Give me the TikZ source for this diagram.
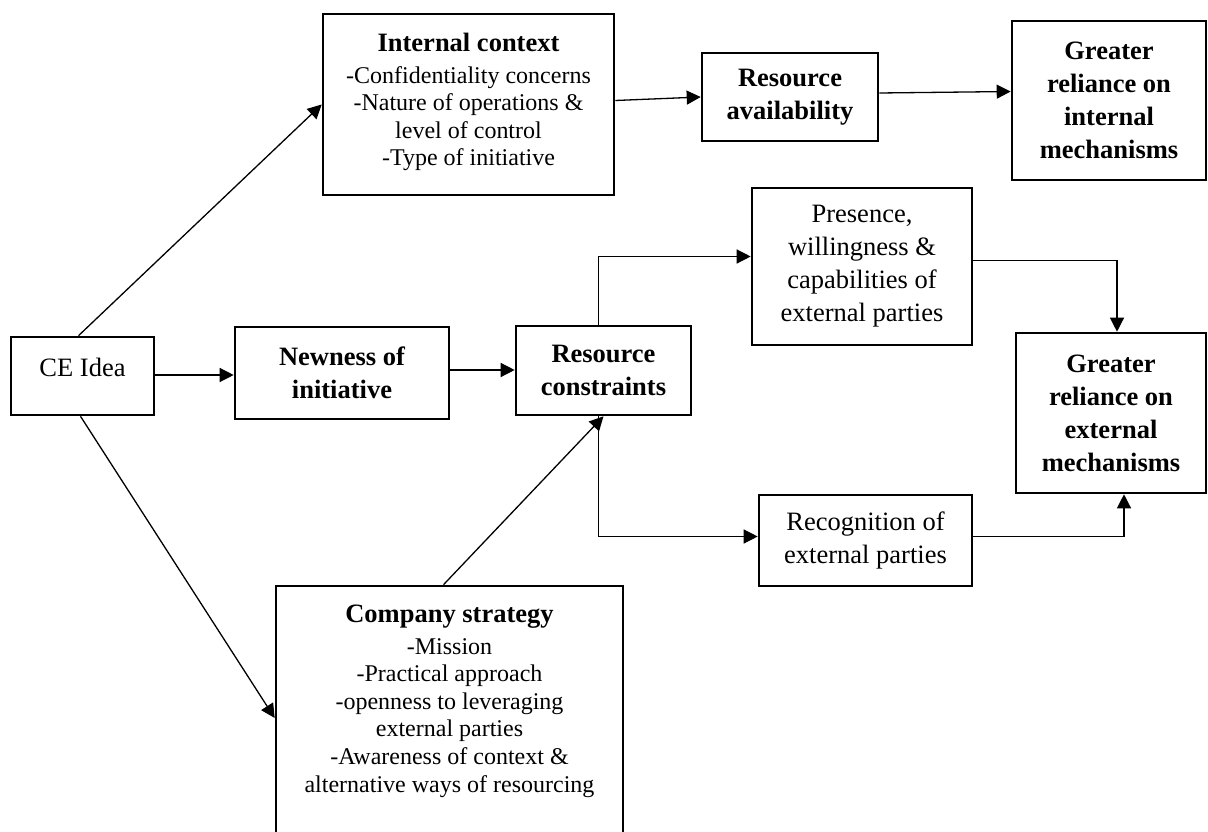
\documentclass[tikz,border=0pt]{standalone}
\usepackage{fontspec}
\setmainfont{Liberation Serif}
\usetikzlibrary{arrows.meta}
\begin{document}
\begin{tikzpicture}[x=1pt,y=-1pt,
  box/.style={draw, line width=2.6pt, inner sep=0pt, align=center,
    font=\fontsize{26.5}{33}\selectfont},
  bbox/.style={box, font=\fontsize{26.5}{33}\selectfont\bfseries},
  ttl/.style={inner sep=0pt, align=center, font=\fontsize{26.5}{33}\selectfont\bfseries},
  lst/.style={inner sep=0pt, align=center, font=\fontsize{24}{27.6}\selectfont},
  arr/.style={line width=1.3pt, -{Triangle[length=14pt,width=14pt]}},
  ln/.style={line width=1.3pt}]
\useasboundingbox (0,0) rectangle (1208,832);

% boxes
\node[box, minimum width=143pt, minimum height=78pt, text depth=18pt] (ce) at (82.5,376) {CE Idea};
\node[bbox, minimum width=214pt, minimum height=92pt] (new) at (342,373) {Newness of\\initiative};
\node[bbox, minimum width=175pt, minimum height=89pt] (rc) at (603.5,370.5) {Resource\\constraints};
\node[box, minimum width=291pt, minimum height=181pt] (ic) at (468.5,104.5) {};
\node[ttl, anchor=north] (ict) at (468.5,33) {Internal context};
\node[lst, anchor=north] (icl) at (468.5,66) {-Confidentiality concerns\\-Nature of operations \&\\level of control\\-Type of initiative};
\node[bbox, minimum width=176pt, minimum height=88pt] (ra) at (790,97) {Resource\\availability};
\node[bbox, minimum width=194pt, minimum height=159pt] (gi) at (1109,100.5) {Greater\\reliance on\\internal\\mechanisms};
\node[box, minimum width=220pt, minimum height=157pt] (pr) at (862,266.5) {Presence,\\willingness \&\\capabilities of\\external parties};
\node[bbox, minimum width=190pt, minimum height=160pt] (ge) at (1111,413) {Greater\\reliance on\\external\\mechanisms};
\node[box, minimum width=213pt, minimum height=91pt] (rec) at (865.5,540.5) {Recognition of\\external parties};
\node[box, minimum width=347pt, minimum height=254pt] (cs) at (449.5,713) {};
\node[ttl, anchor=north] (cst) at (449.5,605) {Company strategy};
\node[lst, anchor=north] (csl) at (449.5,638) {-Mission\\-Practical approach\\-openness to leveraging\\external parties\\-Awareness of context \&\\alternative ways of resourcing};

% connectors
\draw[arr] ([xshift=-4pt]ce.north) -- (ic.west);
\draw[arr] ([yshift=1pt]ce.east) -- ([yshift=1pt]ce.east -| new.west);
\draw[arr] ([yshift=3pt]new.east) -- ([yshift=3pt]new.east -| rc.west);
\draw[arr] ([xshift=-2pt]ce.south) -- ([yshift=-5pt]cs.west);
\draw[arr] ([xshift=-6pt]cs.north) -- (rc.south);
\draw[arr] ([xshift=-5pt]rc.north) |- ([yshift=10pt]pr.west);
\draw[arr] ([xshift=-5pt]rc.south) |- ([yshift=4pt]rec.west);
\draw[arr] ([yshift=6pt]pr.east) -| ([xshift=6pt]ge.north);
\draw[arr] ([yshift=4pt]rec.east) -| ([xshift=13pt]ge.south);
\draw[arr] ([yshift=4pt]ic.east) -- (ra.west);
\draw[arr] ([yshift=4pt]ra.east) -- ([yshift=9pt]gi.west);
\end{tikzpicture}
\end{document}
